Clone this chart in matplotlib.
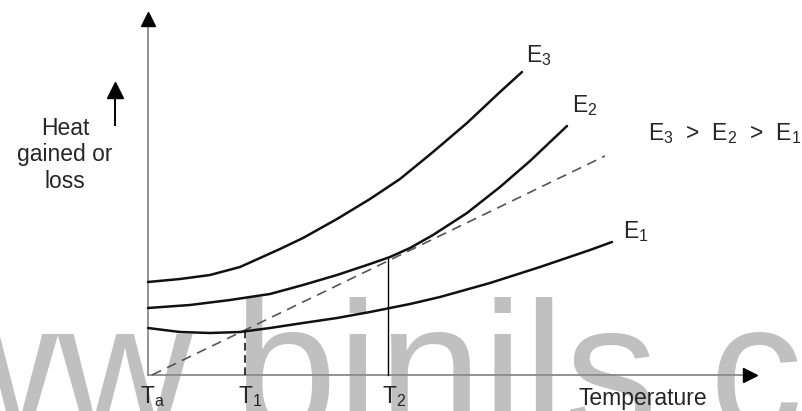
import numpy as np
import matplotlib
matplotlib.use("Agg")
from matplotlib import pyplot as plt

plt.rcParams['font.family'] = ['Liberation Sans', 'DejaVu Sans']
plt.rcParams['mathtext.fontset'] = 'custom'
plt.rcParams['mathtext.rm'] = 'Liberation Sans'

# curves (x = temperature above Ta, y = heat), arbitrary units
e3_x = [0, 32, 62, 92, 132, 155, 189, 222, 252, 285, 319, 352, 374]
e3_y = [93, 96, 100, 108, 126, 137, 156, 176, 196, 223, 252, 283, 303]
e2_x = [0, 42, 82, 122, 155, 189, 222, 242, 262, 285, 319, 352, 382, 419]
e2_y = [67, 70, 75, 81, 90, 100, 111, 118, 127, 140, 162, 188, 214, 249]
e1_x = [0, 32, 62, 92, 122, 155, 189, 222, 262, 292, 342, 392, 442, 464]
e1_y = [47, 43, 42, 43, 47, 52, 57, 63, 71, 78, 92, 108, 125, 133]
loss_x = [4, 457]
loss_y = [0, 219]
t1, t1_top = 97, 44
t2, t2_top = 240, 118

ink = '#262626'
axis_col = '#8a8a8a'

fig = plt.figure(figsize=(8.02, 4.11), dpi=100)
ax = fig.add_axes([0, 0, 1, 1])
ax.set_xlim(-148, 654)
ax.set_ylim(-36, 375)
ax.axis('off')

# watermark behind everything
ax.text(-211 / 802, -21 / 411, 'www.binils.com', fontsize=134, color='#c0c0c0',
        ha='left', va='baseline', transform=fig.transFigure, zorder=0, clip_on=False)

# axes with arrow heads
ax.plot([0, 0], [0, 350], color=axis_col, lw=1.3, zorder=2)
ax.plot([0], [356], marker='^', ms=10.5, color='black', zorder=3)
ax.plot([0, 596], [0, 0], color=axis_col, lw=1.3, zorder=2)
ax.plot([602], [0], marker='>', ms=10.5, color='black', zorder=3)

# little arrow beside the label
ax.plot([-33, -33], [250, 280], color='black', lw=1.4, zorder=3)
ax.plot([-33], [285], marker='^', ms=11, color='black', zorder=3)

# curves
for xs, ys in [(e3_x, e3_y), (e2_x, e2_y), (e1_x, e1_y)]:
    ax.plot(xs, ys, color='#111111', lw=1.8, solid_capstyle='round',
            solid_joinstyle='round', zorder=4)

ax.plot(loss_x, loss_y, color='#555555', lw=1.2, dashes=(6, 4), zorder=3)
ax.plot([t1, t1], [0, t1_top], color='black', lw=1.1, dashes=(5, 3), zorder=3)
ax.plot([t2, t2], [0, t2_top], color='black', lw=1.0, zorder=3)

fs = 16.5
ax.text(-83, 220, 'Heat\ngained or\nloss', fontsize=fs, color=ink, ha='center',
        va='center', multialignment='center', linespacing=1.22, zorder=5)
ax.text(495, -30, 'Temperature', fontsize=fs, color=ink, ha='center', va='baseline', zorder=5)
for x, lab in [(-8, 'a'), (90, '1'), (234, '2')]:
    ax.text(x, -28, r'T$_\mathregular{%s}$' % lab, fontsize=fs, color=ink,
            ha='left', va='baseline', zorder=5)
ax.text(378, 313, r'E$_\mathregular{3}$', fontsize=fs, color=ink, ha='left', va='baseline', zorder=5)
ax.text(424, 263, r'E$_\mathregular{2}$', fontsize=fs, color=ink, ha='left', va='baseline', zorder=5)
ax.text(475, 137, r'E$_\mathregular{1}$', fontsize=fs, color=ink, ha='left', va='baseline', zorder=5)
ax.text(500, 235, r'E$_\mathregular{3}$  >  E$_\mathregular{2}$  >  E$_\mathregular{1}$',
        fontsize=fs, color=ink, ha='left', va='baseline', zorder=5)

fig.savefig('out.png', dpi=100)
